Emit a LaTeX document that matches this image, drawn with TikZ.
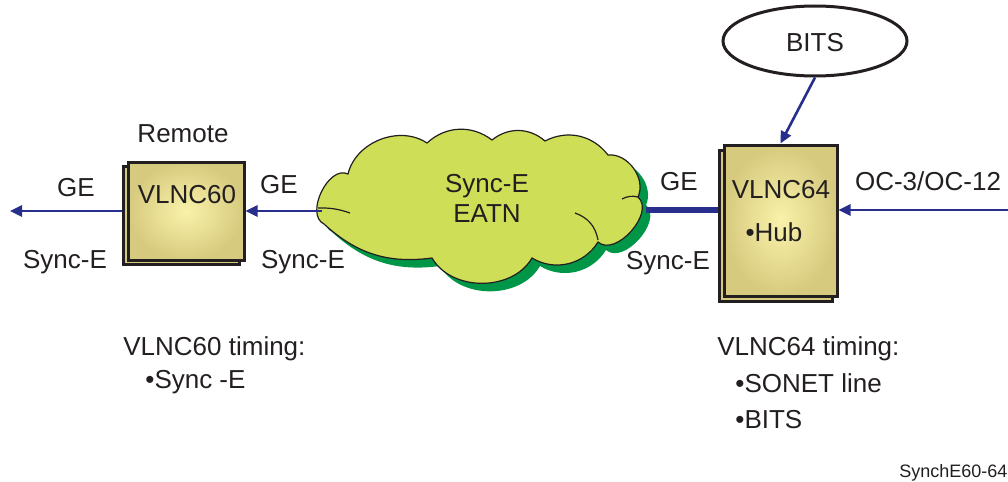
\documentclass[tikz,border=0pt]{standalone}
\usepackage{fontspec}
\setmainfont{Liberation Sans}
\usetikzlibrary{arrows.meta, shapes.geometric}
\definecolor{linkblue}{RGB}{40,46,140}
\definecolor{boxin}{RGB}{250,242,170}
\definecolor{boxout}{RGB}{214,202,126}
\definecolor{cloudfill}{RGB}{206,222,86}
\definecolor{cloudshade}{RGB}{0,150,72}
\definecolor{ink}{RGB}{35,31,32}
% outline of the EATN cloud
\newcommand{\eatnoutline}{(348,174) to[bend left=55] (427,143) to[bend left=40] (492,140)
  to[bend left=40] (545,141) to[bend left=40] (608,155) to[bend left=60] (638,197)
  to[bend left=90] (598,242) to[bend left=45] (532,258) to[bend left=60] (432,258)
  to[bend left=25] (324,224) to[bend left=90] (348,174) -- cycle}

\begin{document}
\begin{tikzpicture}[x=0.5pt, y=-0.5pt,
  >={Triangle[length=6pt, width=5.5pt]},
  txt/.style={inner sep=0pt, anchor=base, text=ink, font=\fontsize{13}{15}\selectfont},
  unit/.style={draw=ink, line width=1.5pt, inner color=boxin, outer color=boxout},
  link/.style={linkblue, line width=1.3pt}]
  \useasboundingbox (0,0) rectangle (1008,482);

  % Cloud
  \fill[cloudshade, shift={(8,8)}] \eatnoutline;
  \filldraw[ink, line width=0.6pt, fill=cloudfill] \eatnoutline;
  \draw[ink, line width=0.6pt] (318,208) to[bend left=10] (350,213)
    (575,213) to[bend left=30] (598,240) (638,197) to[bend right=20] (622,199);
  \node[txt] (eatn1) at (487,192) {Sync-E};
  \node[txt] (eatn2) at (487,222) {EATN};
  \coordinate (eatnw) at (322,211);
  \coordinate (eatne) at (646,210);

  % Remote unit
  \node[unit, minimum width=58pt, minimum height=49pt] (v60b) at (181,215) {};
  \node[unit, minimum width=58pt, minimum height=49pt] (v60) at (186,211) {};
  \node[txt] (v60name) at (187,203) {VLNC60};
  \node[txt] (remote) at (183,142) {Remote};

  % Hub unit
  \node[unit, minimum width=56.5pt, minimum height=75.5pt] (v64b) at (775.5,225.5) {};
  \node[unit, minimum width=56.5pt, minimum height=75.5pt] (v64) at (780.5,220.5) {};
  \node[txt] (v64name) at (781,198) {VLNC64};
  \node[txt] (hub) at (774,241) {\textbullet Hub};

  % BITS source
  \node[ellipse, draw=ink, line width=1.5pt, fill=white, minimum width=92pt,
    minimum height=35pt, inner sep=0pt] (bits) at (815,41) {};
  \node[txt] (bitsname) at (815,52) {BITS};

  % Links
  \coordinate (ge60) at (10,211);
  \coordinate (oc) at (1010,210);
  \draw[link, ->] (v60b.west |- ge60) -- (ge60);
  \draw[link, ->] (eatnw) -- (v60.east |- eatnw);
  \draw[linkblue, line width=2.8pt] (v64b.west |- oc) -- (eatne);
  \draw[link, ->] (oc) -- (v64.east |- oc);
  \draw[link, ->] (bits.south) -- (v64.north);

  % Link labels
  \node[txt] (ge1) at (76,196) {GE};
  \node[txt] (se1) at (65,268) {Sync-E};
  \node[txt] (ge2) at (279,193) {GE};
  \node[txt] (se2) at (303,268) {Sync-E};
  \node[txt] (ge3) at (679,190) {GE};
  \node[txt] (se3) at (668,269) {Sync-E};
  \node[txt] (ocl) at (928,190) {OC-3/OC-12};

  % Timing notes
  \node[txt, anchor=base west] (t60) at (123,355) {VLNC60 timing:};
  \node[txt, anchor=base west] (t60a) at (145,388) {\textbullet Sync -E};
  \node[txt, anchor=base west] (t64) at (717,355) {VLNC64 timing:};
  \node[txt, anchor=base west] (t64a) at (735,392) {\textbullet SONET line};
  \node[txt, anchor=base west] (t64b) at (735,428) {\textbullet BITS};
  \node[txt, anchor=base west, font=\fontsize{9}{10}\selectfont] (tag) at (899,477) {SynchE60-64};
\end{tikzpicture}
\end{document}
